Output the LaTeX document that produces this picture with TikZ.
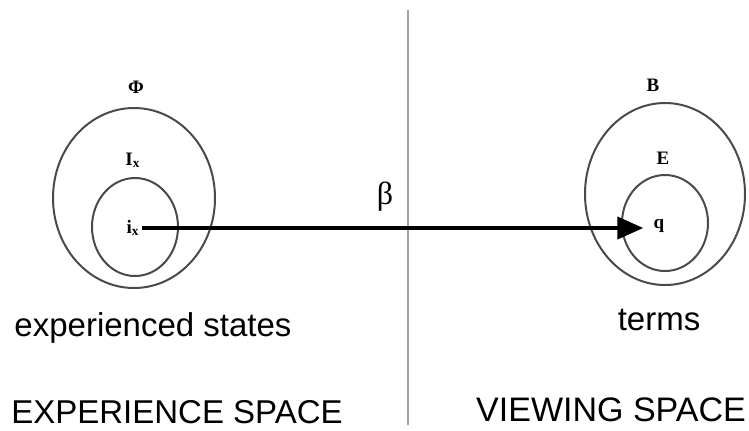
\documentclass[tikz,border=0pt]{standalone}
\usepackage{fontspec}
\setmainfont{Liberation Serif}
\setsansfont{Liberation Sans}
\usepackage{tikz}
\usetikzlibrary{shapes.geometric, arrows.meta, positioning}
\definecolor{ringgray}{HTML}{4A4A4A}
\definecolor{splitgray}{HTML}{A0A0A0}

\begin{document}
\begin{tikzpicture}[
        x=0.5pt, y=-0.5pt,
        ring/.style={ellipse, draw=ringgray, line width=1pt, inner sep=0pt},
        setname/.style={font=\fontsize{9.5}{10}\selectfont\bfseries, inner sep=1pt},
        caption/.style={font=\sffamily\fontsize{16.5}{18}\selectfont, inner sep=0pt},
        mapping/.style={-{Triangle[length=13pt, width=11pt]}, line width=2pt, shorten >=4pt}
    ]
        \useasboundingbox (0,0) rectangle (749,430);

        % Divider
        \coordinate (top) at (408,10);
        \coordinate (bottom) at (408,425);
        \draw [splitgray, line width=1pt] (top) -- (bottom);

        % Experience space
        \node (phi) [ring, minimum width=81pt, minimum height=90pt] at (134,198) {};
        \node (ix) [ring, minimum width=43pt, minimum height=49pt] at (135,227) {};
        \node (philab) [setname] at (136,87) {Φ};
        \node (Ilab) [setname] at (133,160) {I\textsubscript{x}};
        \node (ilab) [setname] at (133,228) {i\textsubscript{x}};
        \node (states) [caption] at (153,328) {experienced states};
        \node (espace) [caption] at (177,412) {EXPERIENCE SPACE};

        % Viewing space
        \node (bset) [ring, minimum width=80pt, minimum height=91pt] at (665,194) {};
        \node (eset) [ring, minimum width=43pt, minimum height=48pt] at (665,223) {};
        \node (blab) [setname] at (653,85) {B};
        \node (elab) [setname] at (663,158) {E};
        \node (qlab) [setname] at (659,226) {q};
        \node (terms) [caption] at (659,320) {terms};
        \node (vspace) [caption, font=\sffamily\fontsize{17}{18}\selectfont] at (611,410) {VIEWING SPACE};

        % Mapping
        \draw [mapping] (ilab.east) -- (ilab.east -| qlab.west);
        \node (beta) [font=\fontsize{16}{16}\selectfont] at (385,197) {β};
    \end{tikzpicture}
\end{document}
